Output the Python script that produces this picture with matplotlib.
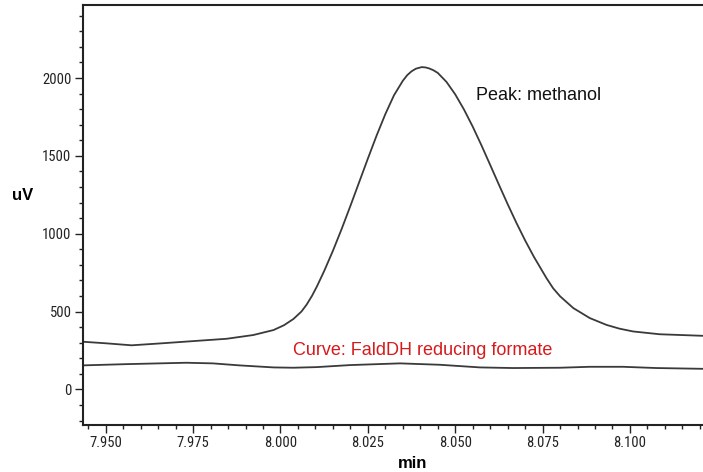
import matplotlib
matplotlib.use("Agg")
import matplotlib.pyplot as plt
from matplotlib import font_manager
from matplotlib.ticker import MultipleLocator, FixedLocator, FuncFormatter

# Data
peak_time = [7.9434, 7.950, 7.9574, 7.9655, 7.975, 7.9846, 7.9922, 7.998, 8.001,
             8.0037, 8.006, 8.0075, 8.009, 8.0104, 8.0125, 8.015, 8.0175, 8.020,
             8.0225, 8.025, 8.0275, 8.030, 8.0325, 8.035, 8.03625, 8.0375, 8.03875,
             8.0404, 8.0415, 8.0425, 8.04375, 8.045, 8.0475, 8.050, 8.0525, 8.055,
             8.0575, 8.060, 8.0625, 8.065, 8.0675, 8.070, 8.0725, 8.0761, 8.078,
             8.080, 8.0838, 8.0885, 8.0933, 8.097, 8.1009, 8.1085, 8.1209]
peak_uv = [306, 296, 283, 295, 310, 325, 349, 381, 412,
           452, 500, 545, 600, 660, 760, 890, 1030, 1178,
           1330, 1482, 1630, 1768, 1890, 1982, 2018, 2043, 2060,
           2070, 2068, 2062, 2050, 2033, 1975, 1895, 1798, 1688,
           1568, 1442, 1315, 1190, 1070, 957, 852, 715, 650,
           598, 522, 458, 414, 390, 372, 354, 344]

base_time = [7.9434, 7.9558, 7.9730, 7.9806, 7.9883, 7.998, 8.0037, 8.0104, 8.0199,
             8.0342, 8.0456, 8.0571, 8.0666, 8.080, 8.0885, 8.098, 8.1076, 8.1209]
base_uv = [154, 162, 171, 167, 154, 141, 139, 143, 156,
           167, 158, 141, 137, 139, 145, 145, 137, 132]

x_ticks = [7.950, 7.975, 8.000, 8.025, 8.050, 8.075, 8.100]
y_ticks = [0, 500, 1000, 1500, 2000]

installed = {f.name for f in font_manager.fontManager.ttflist}
tick_font = [f for f in ['Liberation Sans Narrow', 'Roboto Condensed', 'DejaVu Sans Condensed',
                         'DejaVu Sans'] if f in installed] or ['DejaVu Sans']

fig = plt.figure(figsize=(7.03, 4.72), dpi=100)
ax = fig.add_axes([0.1176, 0.1002, 0.8824, 0.8892])

ax.plot(peak_time, peak_uv, color='#3a3a3a', lw=1.3, solid_joinstyle='round')
ax.plot(base_time, base_uv, color='#3a3a3a', lw=1.3, solid_joinstyle='round')

ax.set_xlim(7.9434, 8.1209)
ax.set_ylim(-227, 2469)

ax.xaxis.set_major_locator(FixedLocator(x_ticks))
ax.xaxis.set_minor_locator(MultipleLocator(0.005))
ax.yaxis.set_major_locator(FixedLocator(y_ticks))
ax.yaxis.set_minor_locator(MultipleLocator(100))
ax.xaxis.set_major_formatter(FuncFormatter(lambda v, p: f"{v:.3f}"))
ax.yaxis.set_major_formatter(FuncFormatter(lambda v, p: f"{int(round(v))}"))

for sp in ['left', 'bottom', 'top']:
    ax.spines[sp].set_linewidth(1.5)
    ax.spines[sp].set_color('#222222')
ax.spines['right'].set_visible(False)

ax.tick_params(axis='both', which='major', direction='out', length=6, width=1.0,
               color='#222222', labelsize=10.5, labelcolor='#222222', pad=2)
ax.tick_params(axis='both', which='minor', direction='out', length=3, width=1.0,
               color='#222222')
for lab in ax.get_xticklabels() + ax.get_yticklabels():
    lab.set_family(tick_font)

fig.text(23 / 703, 1 - 195 / 472, 'uV', ha='center', va='center',
         fontsize=12, fontweight='bold', family=['Liberation Sans', 'DejaVu Sans'])
fig.text(413 / 703, 1 - 463 / 472, 'min', ha='center', va='center',
         fontsize=12, fontweight='bold', family=['Liberation Sans', 'DejaVu Sans'])

ax.text(8.0559, 1890, 'Peak: methanol', ha='left', va='center', fontsize=13,
        color='#111111', family=['Liberation Sans', 'DejaVu Sans'])
ax.text(8.0036, 252, 'Curve: FaldDH reducing formate', ha='left', va='center',
        fontsize=13, color='#d7191c', family=['Liberation Sans', 'DejaVu Sans'])

fig.savefig('out.png', dpi=100, facecolor='white')
